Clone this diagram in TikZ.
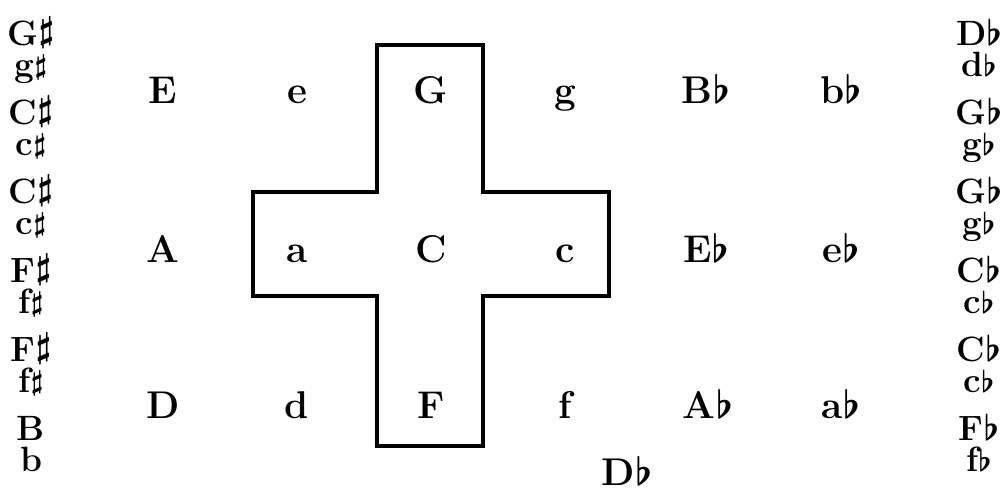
\RequirePackage{fix-cm}
\documentclass[tikz,border=0pt]{standalone}
\usepackage{tikz}
\usetikzlibrary{positioning}
\newcommand{\shp}{\raisebox{0.1em}{$\sharp$}}
\newcommand{\lshp}{\raisebox{0.05em}{\scalebox{0.8}{$\sharp$}}}
\newcommand{\flt}{$\flat$}
\newcommand{\lflt}{\scalebox{0.85}{$\flat$}}

\begin{document}
\begin{tikzpicture}[node distance=2.68cm,on grid]
\tikzset{note/.style={font=\fontsize{22}{26}\selectfont\bfseries\boldmath,inner sep=0pt,text height=15pt,text depth=0pt}}
\tikzset{side/.style={font=\fontsize{20}{23}\selectfont\bfseries\boldmath,inner sep=0pt,text height=13.7pt,text depth=0pt}}
\useasboundingbox (0,0) rectangle (20.06,-9.84);
\draw[line width=2pt] (7.54,-0.90) -- (9.66,-0.90) -- (9.66,-3.84) -- (12.18,-3.84) -- (12.18,-5.92) -- (9.66,-5.92) -- (9.66,-8.92) -- (7.54,-8.92) -- (7.54,-5.92) -- (5.06,-5.92) -- (5.06,-3.84) -- (7.54,-3.84) -- cycle;
\node[note] (E) at (3.26,-1.80) {E};
\node[note,right=of E] (e) {e};
\node[note,right=of e] (G) {G};
\node[note,right=of G] (g) {g};
\node[note,right=2.82cm of g] (Bb) {B\flt};
\node[note,right=2.7cm of Bb] (bb) {b\flt};
\node[note,below=3.18cm of E] (A) {A};
\node[note,right=of A] (a) {a};
\node[note,right=of a] (C) {C};
\node[note,right=of C] (c) {c};
\node[note,right=2.82cm of c] (Eb) {E\flt};
\node[note,right=2.7cm of Eb] (eb) {e\flt};
\node[note,below=3.12cm of A] (D) {D};
\node[note,right=of D] (d) {d};
\node[note,right=of d] (F) {F};
\node[note,right=of F] (f) {f};
\node[note,right=2.86cm of f] (Ab) {A\flt};
\node[note,right=2.66cm of Ab] (ab) {a\flt};
\node[note,below right=1.34cm and 1.24cm of f] (Db) {D\flt};
\node[side] (lG) at (0.62,-0.66) {G\shp};
\node[side,below=0.63cm of lG] (lg) {g\lshp};
\node[side,below=1.58cm of lG] (lC) {C\shp};
\node[side,below=0.63cm of lC] (lc) {c\lshp};
\node[side,below=1.58cm of lC] (lC2) {C\shp};
\node[side,below=0.63cm of lC2] (lc2) {c\lshp};
\node[side,below=1.58cm of lC2] (lF) {F\shp};
\node[side,below=0.63cm of lF] (lf) {f\lshp};
\node[side,below=1.58cm of lF] (lF2) {F\shp};
\node[side,below=0.63cm of lF2] (lf2) {f\lshp};
\node[side,below=1.58cm of lF2] (lB) {B};
\node[side,below=0.63cm of lB] (lb) {b};
\node[side] (rD) at (19.58,-0.66) {D\flt};
\node[side,below=0.63cm of rD] (rd) {d\lflt};
\node[side,below=1.58cm of rD] (rG) {G\flt};
\node[side,below=0.63cm of rG] (rg) {g\lflt};
\node[side,below=1.58cm of rG] (rG2) {G\flt};
\node[side,below=0.63cm of rG2] (rg2) {g\lflt};
\node[side,below=1.58cm of rG2] (rC) {C\flt};
\node[side,below=0.63cm of rC] (rc) {c\lflt};
\node[side,below=1.58cm of rC] (rC2) {C\flt};
\node[side,below=0.63cm of rC2] (rc2) {c\lflt};
\node[side,below=1.58cm of rC2] (rF) {F\flt};
\node[side,below=0.63cm of rF] (rf) {f\lflt};
\end{tikzpicture}
\end{document}
